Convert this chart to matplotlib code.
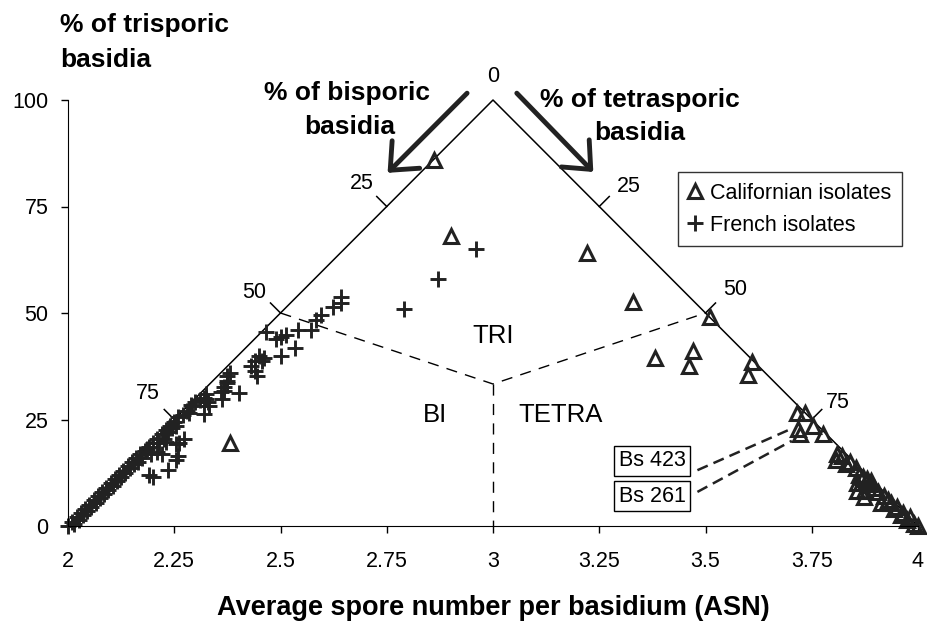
import matplotlib
matplotlib.use('Agg')
import matplotlib.pyplot as plt

plt.rcParams['font.family'] = ['Liberation Sans', 'DejaVu Sans']

# French isolates (ASN, % trisporic)
french_x = [2.00, 2.01, 2.015, 2.02, 2.025, 2.03, 2.035, 2.04, 2.045, 2.05, 2.055, 2.06, 2.065,
            2.07, 2.075, 2.08, 2.085, 2.09, 2.095, 2.10, 2.105, 2.11, 2.115, 2.12, 2.125, 2.13,
            2.135, 2.14, 2.145, 2.15, 2.155, 2.16, 2.165, 2.17, 2.175, 2.18, 2.19, 2.20, 2.21,
            2.215, 2.22, 2.225, 2.23, 2.235, 2.24, 2.245, 2.25, 2.255, 2.26, 2.27, 2.28, 2.285,
            2.29, 2.30, 2.31, 2.32, 2.325, 2.33, 2.36, 2.367, 2.374, 2.374, 2.38,
            2.19, 2.20, 2.236, 2.255, 2.26, 2.262, 2.273, 2.22, 2.21, 2.196, 2.185, 2.231,
            2.255, 2.238, 2.292, 2.32, 2.332, 2.325, 2.362, 2.402, 2.367, 2.374, 2.444, 2.44,
            2.43, 2.44, 2.456, 2.449, 2.46, 2.502, 2.535, 2.467, 2.49, 2.502, 2.514, 2.542,
            2.572, 2.584, 2.596, 2.624, 2.643, 2.643, 2.79, 2.87, 2.96]
french_y = [0, 1, 0.5, 2, 1.5, 3, 2.5, 4, 3.5, 5, 4.5, 6, 5.5,
            7, 6.5, 8, 7.5, 9, 8.5, 10, 9.5, 11, 10.5, 12, 11.5, 13,
            12.5, 14, 13.5, 15, 14.5, 16, 15, 17, 16, 17.5, 18.5, 19.5, 20.5,
            19.5, 21.5, 20.5, 22.5, 22, 23.5, 23, 24.5, 23.5, 25.5, 26, 27, 26.5,
            28.5, 29, 29.5, 30, 31, 29, 31.5, 32.6, 34, 35.2, 36,
            12, 11.5, 13.1, 15.5, 16.5, 19.5, 20.4, 17, 17.4, 16.9, 18.1, 19.8,
            19.3, 22.9, 28.1, 26.4, 28.1, 29.8, 29.8, 31.2, 31.7, 33.6, 35.2, 36.4,
            37.6, 38.8, 38.8, 40, 39.4, 40, 41.7, 45.5, 44, 44.3, 44.8, 46,
            46, 48.3, 49.5, 51.4, 52.4, 53.8, 51, 58, 65]

# Californian isolates (ASN, % trisporic)
calif_x = [2.86, 2.90, 2.38, 3.22, 3.33, 3.51, 3.38, 3.47, 3.46, 3.61, 3.60,
           3.715, 3.734, 3.717, 3.722, 3.752, 3.776, 3.81, 3.808, 3.82, 3.83, 3.84, 3.855,
           3.86, 3.857, 3.857, 3.874, 3.874, 3.885, 3.87, 3.88, 3.89, 3.897, 3.905, 3.913,
           3.92, 3.93, 3.937, 3.944, 3.95, 3.96, 3.965, 3.975, 3.98, 3.99, 4.0]
calif_y = [86, 68, 19.5, 64, 52.5, 49, 39.5, 41, 37.5, 38.5, 35.5,
           26.5, 26.5, 22.8, 21.5, 23.5, 21.5, 17, 15.5, 16.5, 14.5, 15, 13.5,
           12, 10.2, 8.3, 8.3, 6.7, 9.8, 11.5, 11, 10.5, 9, 7.9, 5.5,
           7, 6, 5.5, 4, 4.5, 2.6, 3, 1.5, 2, 0.5, 0]

side_ticks = [25, 50, 75]
x_ticks = [2, 2.25, 2.5, 2.75, 3, 3.25, 3.5, 3.75, 4]
x_labels = ['2', '2.25', '2.5', '2.75', '3', '3.25', '3.5', '3.75', '4']
y_ticks = [0, 25, 50, 75, 100]

fig = plt.figure(figsize=(9.27, 6.29), dpi=100)
ax = fig.add_axes([68 / 927, 103 / 629, 850 / 927, 426 / 629])
ax.set_xlim(2, 4)
ax.set_ylim(0, 100)

# triangle frame
ax.plot([2, 3, 4], [0, 100, 0], color='black', lw=1.1, clip_on=False)
# boundaries between BI / TRI / TETRA zones
cx, cy = 3, 100 / 3
ax.plot([2.5, cx, 3.5], [50, cy, 50], color='black', lw=1.0, ls=(0, (8, 6)))
ax.plot([cx, cx], [cy, 0], color='black', lw=1.0, ls=(0, (8, 6)))

# graduation on the two sides
dx, dy = 10 / 425, 10 / 4.26
for v in side_ticks:
    lx, ly = 3 - v / 100, 100 - v
    rx, ry = 3 + v / 100, 100 - v
    ax.plot([lx, lx - dx], [ly, ly + dy], color='black', lw=1.1, clip_on=False)
    ax.plot([rx, rx + dx], [ry, ry + dy], color='black', lw=1.1, clip_on=False)

lbl = dict(fontsize=15.5, ha='center', va='center')
ax.text(2.692, 80.5, '25', **lbl)
ax.text(2.437, 54.9, '50', **lbl)
ax.text(2.187, 31.2, '75', **lbl)
ax.text(3.320, 79.6, '25', **lbl)
ax.text(3.570, 55.4, '50', **lbl)
ax.text(3.811, 29.1, '75', **lbl)
ax.text(3.0, 105.6, '0', **lbl)

ax.text(3.0, 44.5, 'TRI', fontsize=18.5, ha='center', va='center')
ax.text(2.864, 26, 'BI', fontsize=18.5, ha='center', va='center')
ax.text(3.16, 26, 'TETRA', fontsize=18.5, ha='center', va='center')

# data
fr, = ax.plot(french_x, french_y, ls='none', marker='+', ms=11, mew=2.1,
              color='#222222', clip_on=False, label='French isolates')
ca, = ax.plot(calif_x, calif_y, ls='none', marker='^', ms=9.5, mew=2.2,
              mfc='none', mec='#222222', clip_on=False, label='Californian isolates')

# strain labels
box = dict(boxstyle='square,pad=0.2', fc='white', ec='black', lw=1.0)
ax.text(3.374, 15.3, 'Bs 423', fontsize=15.5, ha='center', va='center', bbox=box)
ax.text(3.374, 7.0, 'Bs 261', fontsize=15.5, ha='center', va='center', bbox=box)
ax.plot([3.481, 3.706], [13.1, 23.0], color='#222222', lw=1.8, ls=(0, (4.5, 2.5)))
ax.plot([3.481, 3.703], [8.0, 20.0], color='#222222', lw=1.8, ls=(0, (4.5, 2.5)))

# axis titles of the ternary
bold = dict(fontsize=19, fontweight='bold')
ax.text(1.981, 117.6, '% of trisporic', ha='left', va='center', **bold)
ax.text(1.981, 109.4, 'basidia', ha='left', va='center', **bold)
ax.text(2.657, 101.6, '% of bisporic', ha='center', va='center', **bold)
ax.text(2.664, 93.7, 'basidia', ha='center', va='center', **bold)
ax.text(3.346, 100.0, '% of tetrasporic', ha='center', va='center', **bold)
ax.text(3.346, 92.3, 'basidia', ha='center', va='center', **bold)

arrow = dict(arrowstyle='->,head_length=0.8,head_width=0.7', lw=3.5,
             color='#222222', mutation_scale=20, shrinkA=0, shrinkB=0)
ax.annotate('', xy=(2.752, 82.9), xytext=(2.939, 101.6), arrowprops=arrow,
            annotation_clip=False)
ax.annotate('', xy=(3.236, 83.1), xytext=(3.056, 101.6), arrowprops=arrow,
            annotation_clip=False)

# axes styling
for s in ['top', 'right']:
    ax.spines[s].set_visible(False)
ax.spines['left'].set_bounds(0, 100)
ax.spines['bottom'].set_bounds(2, 4)
ax.set_xticks(x_ticks)
ax.set_xticklabels(x_labels)
ax.set_yticks(y_ticks)
ax.tick_params(axis='both', direction='out', length=5, width=1, labelsize=15.5)
ax.tick_params(axis='x', pad=13)
ax.tick_params(axis='y', pad=9)

ax.set_xlabel('Average spore number per basidium (ASN)', fontsize=19.5, fontweight='bold')
ax.xaxis.set_label_coords(0.5, -0.192)
ax.xaxis.label.set_va('center')

leg = ax.legend(handles=[ca, fr], loc='upper left', bbox_to_anchor=(678 / 927, 1 - 172 / 629),
                bbox_transform=fig.transFigure, fontsize=15.5, frameon=True, fancybox=False,
                edgecolor='black', handlelength=0.6, handletextpad=0.4, borderpad=0.5,
                labelspacing=0.5, borderaxespad=0)
leg.get_frame().set_linewidth(1.0)

fig.savefig('out.png', dpi=100, facecolor='white')
